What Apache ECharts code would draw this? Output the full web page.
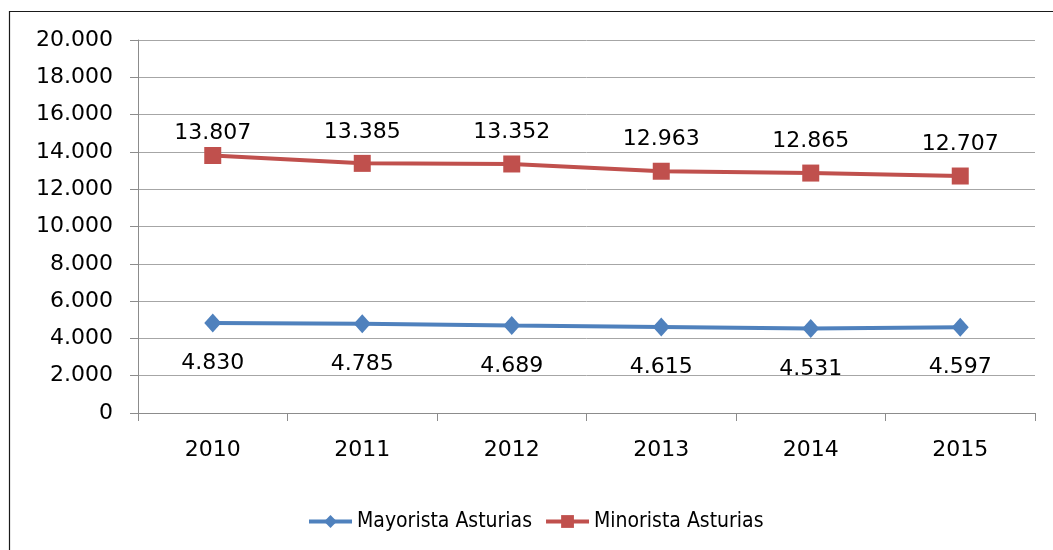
<!DOCTYPE html>
<html>
<head>
<meta charset="utf-8">
<script src="https://cdn.jsdelivr.net/npm/echarts@6/dist/echarts.min.js"></script>
<style>
  html, body { margin: 0; padding: 0; background: #fff; }
  #chart { width: 1053px; height: 550px; }
</style>
</head>
<body>
<div id="chart"></div>
<script>
// datos
const years = ['2010', '2011', '2012', '2013', '2014', '2015'];
const mayorista = [4830, 4785, 4689, 4615, 4531, 4597];
const minorista = [13807, 13385, 13352, 12963, 12865, 12707];
const seriesNames = ['Mayorista Asturias', 'Minorista Asturias'];

const fmt = v => String(v).replace(/\B(?=(\d{3})+(?!\d))/g, '.');
const font = 'DejaVu Sans, Verdana, sans-serif';

const myChart = echarts.init(document.getElementById('chart'));
const option = {
    animation: false,
    graphic: [{
        type: 'rect',
        shape: { x: 9.5, y: 11.5, width: 1100, height: 600 },
        style: { fill: 'none', stroke: '#1a1a1a', lineWidth: 1.2 },
        silent: true
    }],
    grid: { left: 138, right: 18, top: 40, bottom: 137 },
    legend: {
        left: 302,
        top: 506,
        itemWidth: 43,
        itemHeight: 16,
        itemGap: 12,
        lineStyle: { width: 4 },
        textStyle: { fontFamily: 'DejaVu Sans Condensed, DejaVu Sans, sans-serif', fontSize: 21, color: '#000' },
        data: seriesNames
    },
    xAxis: {
        type: 'category',
        data: years,
        boundaryGap: true,
        axisLine: { lineStyle: { color: '#8c8c8c', width: 1 } },
        axisTick: { show: true, length: 8, alignWithLabel: false, lineStyle: { color: '#8c8c8c' } },
        axisLabel: { color: '#000', fontFamily: font, fontSize: 22, margin: 26 }
    },
    yAxis: {
        type: 'value',
        min: 0,
        max: 20000,
        interval: 2000,
        axisLine: { show: true, lineStyle: { color: '#8c8c8c', width: 1 } },
        axisTick: { show: true, length: 8, lineStyle: { color: '#8c8c8c' } },
        splitLine: { lineStyle: { color: '#a6a6a6', width: 1 } },
        axisLabel: { color: '#000', fontFamily: font, fontSize: 22, margin: 25, formatter: fmt }
    },
    series: [
        {
            name: seriesNames[0],
            type: 'line',
            data: mayorista,
            color: '#4F81BD',
            symbol: 'diamond',
            symbolSize: [17, 19],
            lineStyle: { width: 4 },
            label: {
                show: true,
                position: 'bottom',
                distance: 20,
                color: '#000',
                fontFamily: font,
                fontSize: 22,
                formatter: p => fmt(p.value)
            }
        },
        {
            name: seriesNames[1],
            type: 'line',
            data: minorista.map((v, i) => i === 0 ? { value: v, label: { distance: 3 } } : v),
            color: '#C0504D',
            symbol: 'rect',
            symbolSize: 17,
            lineStyle: { width: 4 },
            label: {
                show: true,
                position: 'top',
                distance: 12,
                color: '#000',
                fontFamily: font,
                fontSize: 22,
                formatter: p => fmt(p.value)
            }
        }
    ]
};
myChart.setOption(option);
</script>
</body>
</html>
